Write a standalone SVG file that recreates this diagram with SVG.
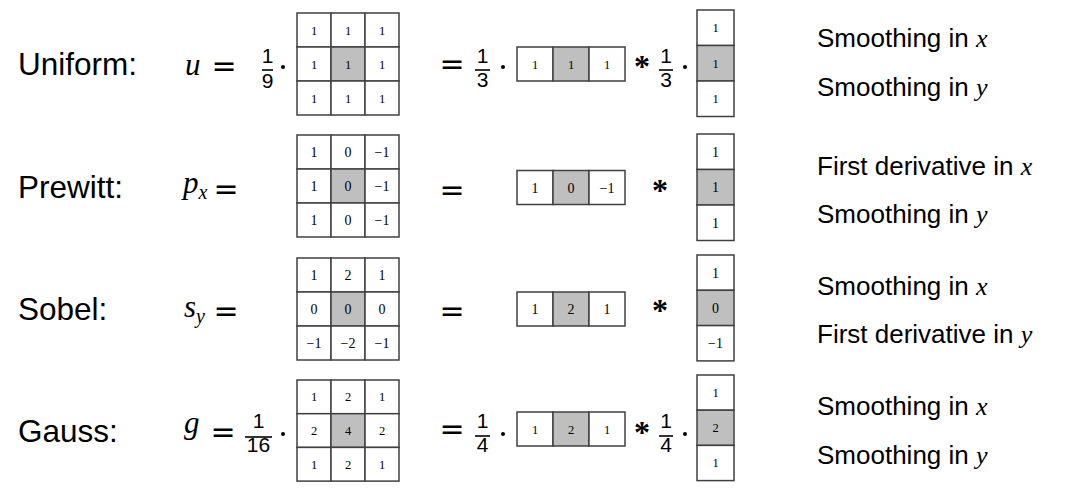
<svg xmlns="http://www.w3.org/2000/svg" width="1070" height="493" viewBox="0 0 1070 493">
<style>
.bg{fill:#ffffff}
.c{fill:#ffffff;stroke:#404040;stroke-width:1.5}
.g{fill:#bfbfbf;stroke:#404040;stroke-width:1.5}
.n{font-family:"Liberation Serif","DejaVu Serif",serif;font-size:12.5px;fill:#000;text-anchor:middle}
.nb{font-family:"Liberation Serif","DejaVu Serif",serif;font-size:14px;fill:#000;text-anchor:middle}
.lab{font-family:"Liberation Sans",Arial,sans-serif;font-size:31.5px;fill:#000}
.desc{font-family:"Liberation Sans",Arial,sans-serif;font-size:26px;fill:#000}
.mi{font-family:"Liberation Serif","DejaVu Serif",serif;font-style:italic;fill:#000}
.eq{font-family:"DejaVu Sans","Liberation Sans",sans-serif;font-size:30px;fill:#000;text-anchor:middle}
.fr{font-family:"Liberation Sans",Arial,sans-serif;font-size:21px;fill:#000;text-anchor:middle}
.st{font-family:"Liberation Serif","DejaVu Serif",serif;font-size:32px;font-weight:bold;fill:#000;text-anchor:middle}
.bar{stroke:#000;stroke-width:1.6}
</style>
<rect class="bg" x="0" y="0" width="1070" height="493"/>

<g id="uniform">
<text class="lab" x="18" y="75">Uniform:</text>
<text class="mi" x="185" y="75" font-size="31">u</text>
<text class="eq" x="224" y="76">=</text>
<text class="fr" x="267.5" y="63">1</text><line class="bar" x1="262" y1="70" x2="273" y2="70"/><text class="fr" x="267.5" y="88">9</text>
<circle cx="283" cy="67" r="2"/>
<g>
<rect class="c" x="297" y="13" width="34" height="34"/><rect class="c" x="331" y="13" width="34" height="34"/><rect class="c" x="365" y="13" width="34" height="34"/>
<rect class="c" x="297" y="47" width="34" height="34"/><rect class="g" x="331" y="47" width="34" height="34"/><rect class="c" x="365" y="47" width="34" height="34"/>
<rect class="c" x="297" y="81" width="34" height="34"/><rect class="c" x="331" y="81" width="34" height="34"/><rect class="c" x="365" y="81" width="34" height="34"/>
<text class="n" x="314" y="34.5">1</text><text class="n" x="348" y="34.5">1</text><text class="n" x="382" y="34.5">1</text>
<text class="n" x="314" y="68.5">1</text><text class="n" x="348" y="68.5">1</text><text class="n" x="382" y="68.5">1</text>
<text class="n" x="314" y="102.5">1</text><text class="n" x="348" y="102.5">1</text><text class="n" x="382" y="102.5">1</text>
</g>
<text class="eq" x="452" y="74">=</text>
<text class="fr" x="482.5" y="63">1</text><line class="bar" x1="475" y1="70" x2="490" y2="70"/><text class="fr" x="482.5" y="87">3</text>
<circle cx="503" cy="67" r="2"/>
<g>
<rect class="c" x="517" y="47" width="36" height="34"/><rect class="g" x="553" y="47" width="36" height="34"/><rect class="c" x="589" y="47" width="36" height="34"/>
<text class="n" x="535" y="68.5">1</text><text class="n" x="571" y="68.5">1</text><text class="n" x="607" y="68.5">1</text>
</g>
<text class="st" x="642" y="77">*</text>
<text class="fr" x="666" y="63">1</text><line class="bar" x1="659" y1="70" x2="673" y2="70"/><text class="fr" x="666" y="87">3</text>
<circle cx="685" cy="67" r="2"/>
<g>
<rect class="c" x="697" y="10" width="37" height="35.5"/><rect class="g" x="697" y="45.5" width="37" height="35.5"/><rect class="c" x="697" y="81" width="37" height="35.5"/>
<text class="n" x="715.5" y="32">1</text><text class="n" x="715.5" y="67.5">1</text><text class="n" x="715.5" y="103">1</text>
</g>
<text class="desc" x="817" y="47">Smoothing in <tspan class="mi" font-size="26">x</tspan></text>
<text class="desc" x="817" y="96">Smoothing in <tspan class="mi" font-size="26">y</tspan></text>
</g>

<g id="prewitt">
<text class="lab" x="18" y="198">Prewitt:</text>
<text class="mi" x="183" y="193" font-size="31">p<tspan font-size="20" dy="6">x</tspan></text>
<text class="eq" x="226" y="199">=</text>
<g>
<rect class="c" x="297" y="135" width="34" height="34"/><rect class="c" x="331" y="135" width="34" height="34"/><rect class="c" x="365" y="135" width="34" height="34"/>
<rect class="c" x="297" y="169" width="34" height="34"/><rect class="g" x="331" y="169" width="34" height="34"/><rect class="c" x="365" y="169" width="34" height="34"/>
<rect class="c" x="297" y="203" width="34" height="34"/><rect class="c" x="331" y="203" width="34" height="34"/><rect class="c" x="365" y="203" width="34" height="34"/>
<text class="nb" x="314" y="157">1</text><text class="nb" x="348" y="157">0</text><text class="nb" x="382" y="157">−1</text>
<text class="nb" x="314" y="191">1</text><text class="nb" x="348" y="191">0</text><text class="nb" x="382" y="191">−1</text>
<text class="nb" x="314" y="225">1</text><text class="nb" x="348" y="225">0</text><text class="nb" x="382" y="225">−1</text>
</g>
<text class="eq" x="452" y="200">=</text>
<g>
<rect class="c" x="517" y="170.5" width="36" height="34"/><rect class="g" x="553" y="170.5" width="36" height="34"/><rect class="c" x="589" y="170.5" width="36" height="34"/>
<text class="nb" x="535" y="192.5">1</text><text class="nb" x="571" y="192.5">0</text><text class="nb" x="607" y="192.5">−1</text>
</g>
<text class="st" x="660" y="201">*</text>
<g>
<rect class="c" x="697" y="134" width="37" height="35.5"/><rect class="g" x="697" y="169.5" width="37" height="35.5"/><rect class="c" x="697" y="205" width="37" height="35.5"/>
<text class="nb" x="715.5" y="156.5">1</text><text class="nb" x="715.5" y="192">1</text><text class="nb" x="715.5" y="227.5">1</text>
</g>
<text class="desc" x="817" y="175">First derivative in <tspan class="mi" font-size="26">x</tspan></text>
<text class="desc" x="817" y="223">Smoothing in <tspan class="mi" font-size="26">y</tspan></text>
</g>

<g id="sobel">
<text class="lab" x="18" y="320">Sobel:</text>
<text class="mi" x="184" y="317" font-size="31">s<tspan font-size="20" dy="6">y</tspan></text>
<text class="eq" x="226" y="321">=</text>
<g>
<rect class="c" x="297" y="258" width="34" height="34"/><rect class="c" x="331" y="258" width="34" height="34"/><rect class="c" x="365" y="258" width="34" height="34"/>
<rect class="c" x="297" y="292" width="34" height="34"/><rect class="g" x="331" y="292" width="34" height="34"/><rect class="c" x="365" y="292" width="34" height="34"/>
<rect class="c" x="297" y="326" width="34" height="34"/><rect class="c" x="331" y="326" width="34" height="34"/><rect class="c" x="365" y="326" width="34" height="34"/>
<text class="nb" x="314" y="280">1</text><text class="nb" x="348" y="280">2</text><text class="nb" x="382" y="280">1</text>
<text class="nb" x="314" y="314">0</text><text class="nb" x="348" y="314">0</text><text class="nb" x="382" y="314">0</text>
<text class="nb" x="314" y="348">−1</text><text class="nb" x="348" y="348">−2</text><text class="nb" x="382" y="348">−1</text>
</g>
<text class="eq" x="452" y="321">=</text>
<g>
<rect class="c" x="517" y="292" width="36" height="34"/><rect class="g" x="553" y="292" width="36" height="34"/><rect class="c" x="589" y="292" width="36" height="34"/>
<text class="nb" x="535" y="314">1</text><text class="nb" x="571" y="314">2</text><text class="nb" x="607" y="314">1</text>
</g>
<text class="st" x="660" y="321">*</text>
<g>
<rect class="c" x="697" y="255" width="37" height="35.3"/><rect class="g" x="697" y="290.3" width="37" height="35.3"/><rect class="c" x="697" y="325.6" width="37" height="35.3"/>
<text class="nb" x="715.5" y="277.5">1</text><text class="nb" x="715.5" y="313">0</text><text class="nb" x="715.5" y="348">−1</text>
</g>
<text class="desc" x="817" y="295">Smoothing in <tspan class="mi" font-size="26">x</tspan></text>
<text class="desc" x="817" y="343">First derivative in <tspan class="mi" font-size="26">y</tspan></text>
</g>

<g id="gauss">
<text class="lab" x="18" y="442">Gauss:</text>
<text class="mi" x="184" y="433" font-size="31">g</text>
<text class="eq" x="223" y="442">=</text>
<text class="fr" x="258.5" y="428">1</text><line class="bar" x1="245" y1="437" x2="272" y2="437"/><text class="fr" x="258.5" y="452">16</text>
<circle cx="283" cy="434" r="2"/>
<g>
<rect class="c" x="297" y="380" width="34" height="33.7"/><rect class="c" x="331" y="380" width="34" height="33.7"/><rect class="c" x="365" y="380" width="34" height="33.7"/>
<rect class="c" x="297" y="413.7" width="34" height="33.7"/><rect class="g" x="331" y="413.7" width="34" height="33.7"/><rect class="c" x="365" y="413.7" width="34" height="33.7"/>
<rect class="c" x="297" y="447.4" width="34" height="33.7"/><rect class="c" x="331" y="447.4" width="34" height="33.7"/><rect class="c" x="365" y="447.4" width="34" height="33.7"/>
<text class="n" x="314" y="401">1</text><text class="n" x="348" y="401">2</text><text class="n" x="382" y="401">1</text>
<text class="n" x="314" y="435">2</text><text class="n" x="348" y="435">4</text><text class="n" x="382" y="435">2</text>
<text class="n" x="314" y="469">1</text><text class="n" x="348" y="469">2</text><text class="n" x="382" y="469">1</text>
</g>
<text class="eq" x="452" y="439">=</text>
<text class="fr" x="482.5" y="428">1</text><line class="bar" x1="475" y1="436" x2="490" y2="436"/><text class="fr" x="482.5" y="452">4</text>
<circle cx="503" cy="434" r="2"/>
<g>
<rect class="c" x="517" y="412" width="36" height="34"/><rect class="g" x="553" y="412" width="36" height="34"/><rect class="c" x="589" y="412" width="36" height="34"/>
<text class="n" x="535" y="433.5">1</text><text class="n" x="571" y="433.5">2</text><text class="n" x="607" y="433.5">1</text>
</g>
<text class="st" x="642" y="443">*</text>
<text class="fr" x="666" y="428">1</text><line class="bar" x1="659" y1="436" x2="673" y2="436"/><text class="fr" x="666" y="452">4</text>
<circle cx="685" cy="434" r="2"/>
<g>
<rect class="c" x="697" y="375" width="37" height="35.2"/><rect class="g" x="697" y="410.2" width="37" height="35.2"/><rect class="c" x="697" y="445.4" width="37" height="35.2"/>
<text class="n" x="715.5" y="397">1</text><text class="n" x="715.5" y="432">2</text><text class="n" x="715.5" y="467">1</text>
</g>
<text class="desc" x="817" y="415">Smoothing in <tspan class="mi" font-size="26">x</tspan></text>
<text class="desc" x="817" y="464">Smoothing in <tspan class="mi" font-size="26">y</tspan></text>
</g>
</svg>
